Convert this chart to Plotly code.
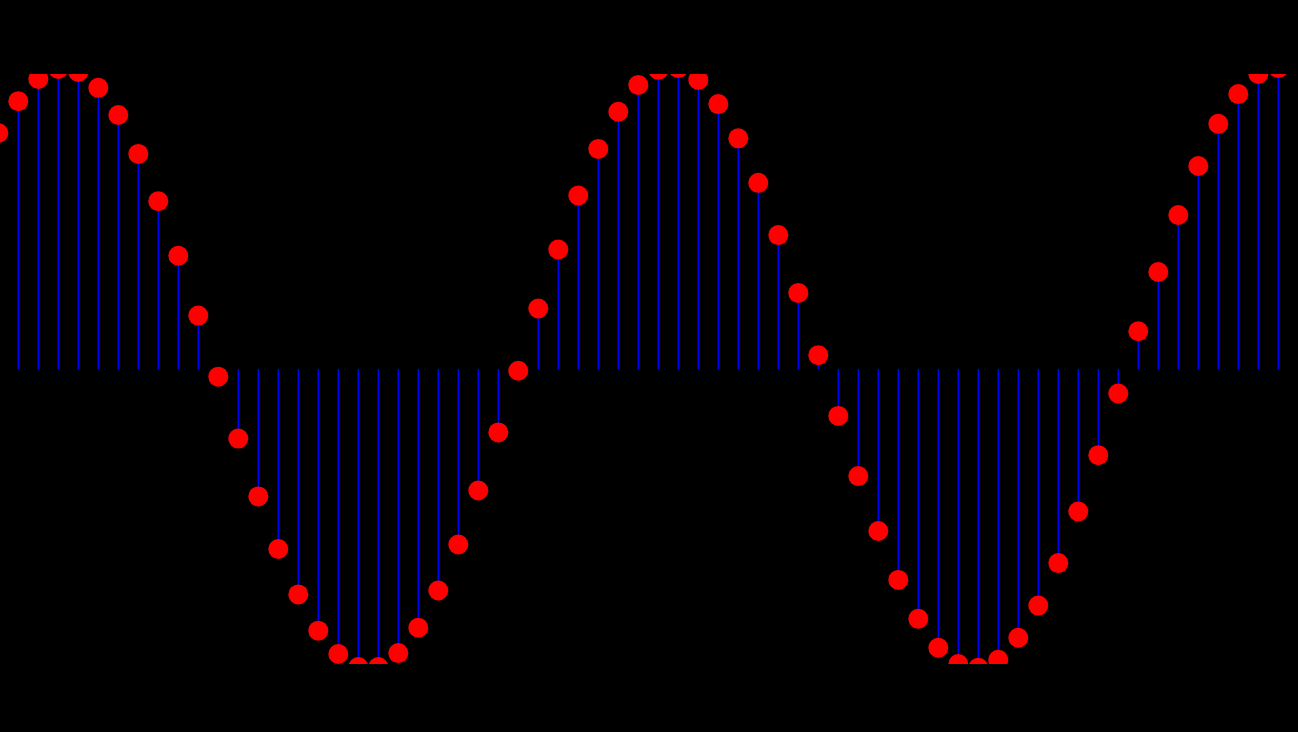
import plotly.graph_objects as go

n_index = list(range(65))
values = [
    0.800, 0.908, 0.983, 1.017, 1.007, 0.953, 0.861, 0.729, 0.569, 0.384,
    0.181, -0.026, -0.236, -0.432, -0.610, -0.764, -0.887, -0.966, -1.010, -1.010,
    -0.963, -0.877, -0.751, -0.595, -0.412, -0.215, -0.006, 0.205, 0.405, 0.588,
    0.746, 0.872, 0.963, 1.014, 1.020, 0.980, 0.898, 0.782, 0.631, 0.454,
    0.258, 0.047, -0.159, -0.363, -0.549, -0.715, -0.847, -0.945, -1.000, -1.013,
    -0.986, -0.911, -0.802, -0.658, -0.483, -0.292, -0.083, 0.128, 0.329, 0.522,
    0.688, 0.831, 0.932, 1.000, 1.020,
]

stem_x, stem_y = [], []
for xi, yi in zip(n_index, values):
    stem_x += [xi, xi, None]
    stem_y += [0, yi, None]

fig = go.Figure()
fig.add_trace(go.Scatter(
    x=stem_x, y=stem_y, mode="lines",
    line=dict(color="#0000ff", width=1.5),
    hoverinfo="skip", showlegend=False,
))
fig.add_trace(go.Scatter(
    x=n_index, y=values, mode="markers",
    marker=dict(color="#ff0000", size=20, line=dict(width=0)),
    showlegend=False,
))

fig.update_layout(
    width=1298, height=732,
    margin=dict(l=0, r=0, t=74, b=68, pad=0),
    paper_bgcolor="black", plot_bgcolor="black",
    xaxis=dict(range=[0.085, 64.985], visible=False, showgrid=False, zeroline=False),
    yaxis=dict(range=[-1.0, 1.0], visible=False, showgrid=False, zeroline=False),
    hovermode=False,
)

fig.write_html("out.html", config={"displayModeBar": False})
